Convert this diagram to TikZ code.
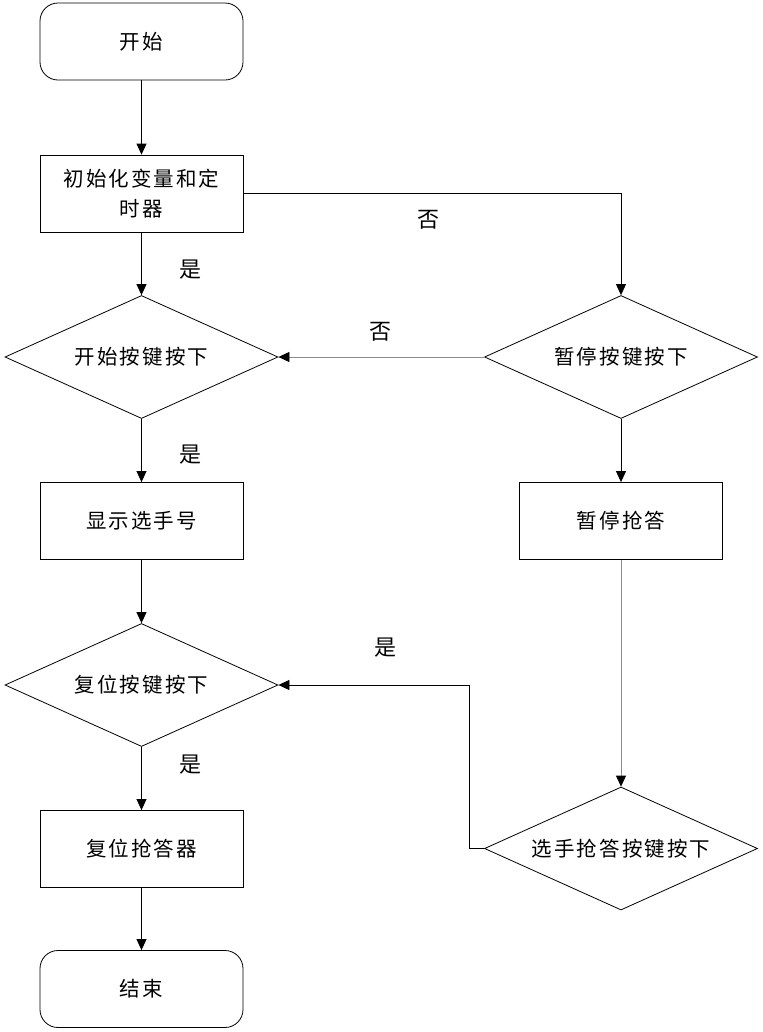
\documentclass[tikz,border=0pt]{standalone}
\usepackage{fontspec}
\newfontfamily\cjk[LetterSpace=10]{Noto Sans CJK SC}
\usetikzlibrary{shapes.geometric,arrows.meta}
\tikzset{
  base/.style={draw=black, line width=0.8bp, font=\cjk\fontsize{20.5bp}{30bp}\selectfont, align=center, inner sep=2bp},
  termbox/.style={base, rectangle, rounded corners=18bp, minimum width=203bp, minimum height=77bp},
  procbox/.style={base, rectangle, minimum width=203bp, minimum height=77bp},
  decbox/.style={base, diamond, aspect=2.22, minimum width=273bp, minimum height=123bp, inner sep=0pt},
  lbl/.style={font=\cjk\fontsize{22bp}{26bp}\selectfont},
  conn/.style={line width=0.8bp, -{Triangle[length=11bp,width=10bp,color=black]}},
  gconn/.style={conn, draw=black!45}
}
\begin{document}
\begin{tikzpicture}[x=1bp,y=-1bp]
\useasboundingbox (0,0) rectangle (763,1032);
\node[termbox] (start) at (141.5,41.5) {开始};
\node[procbox, text width=190bp] (init) at (141.5,193.5) {初始化变量和定\\时器};
\node[decbox] (d1) at (141.5,357) {开始按键按下};
\node[decbox] (d2) at (621,357) {暂停按键按下};
\node[procbox] (show) at (141.5,521) {显示选手号};
\node[procbox] (pause) at (621,521) {暂停抢答};
\node[decbox] (d3) at (141.5,685) {复位按键按下};
\node[decbox] (d4) at (621,848.5) {选手抢答按键按下};
\node[procbox] (reset) at (141.5,849) {复位抢答器};
\node[termbox] (end) at (141.5,989) {结束};

\draw[conn] (start.south) -- (init.north);
\draw[conn] (init.south) -- (d1.north);
\draw[conn] (init.east) -| (d2.north);
\draw[gconn] (d2.west) -- (d1.east);
\draw[conn] (d1.south) -- (show.north);
\draw[conn] (show.south) -- (d3.north);
\draw[conn] (d2.south) -- (pause.north);
\draw[gconn] (pause.south) -- (d4.north);
\coordinate (elb) at (469,848.5);
\draw[conn] (d4.west) -- (elb) |- (d3.east);
\draw[conn] (d3.south) -- (reset.north);
\draw[conn] (reset.south) -- (end.north);

\node[lbl] (l1) at (190,270) {是};
\node[lbl] (l2) at (428,220) {否};
\node[lbl] (l3) at (380,332) {否};
\node[lbl] (l4) at (190,455) {是};
\node[lbl] (l5) at (385,648) {是};
\node[lbl] (l6) at (190,765) {是};
\end{tikzpicture}
\end{document}
